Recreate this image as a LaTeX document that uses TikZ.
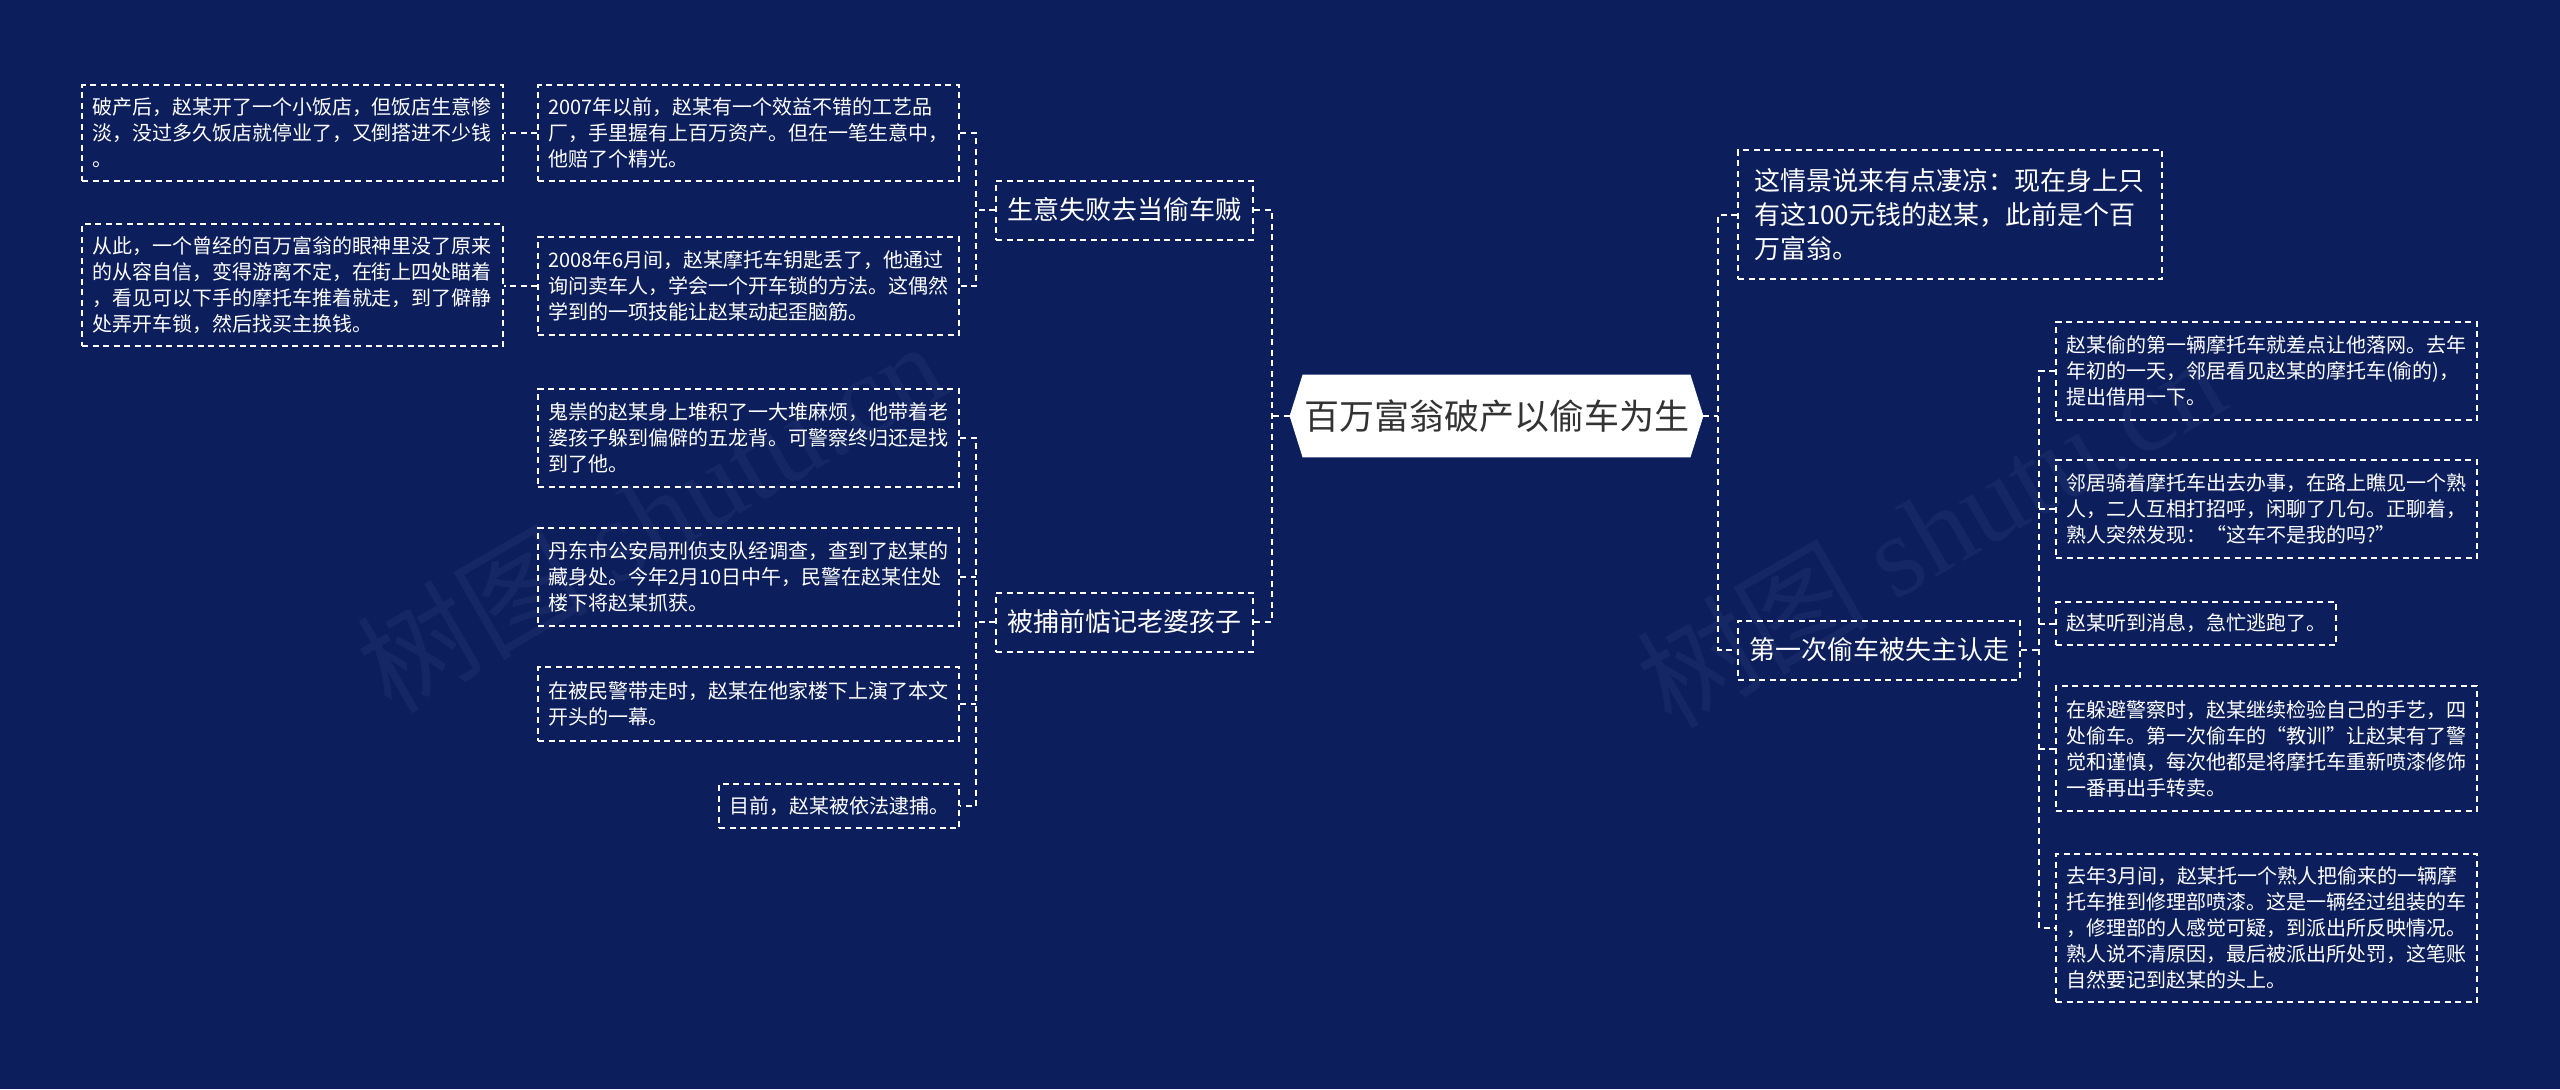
\documentclass[tikz,border=0pt]{standalone}
\usepackage{fontspec}
\setmainfont{Noto Sans CJK SC}
\newfontfamily\wmlatin{Liberation Serif}
\usetikzlibrary{calc}
\definecolor{bgcol}{RGB}{12,31,92}
\definecolor{wmcol}{RGB}{21,39,100}
\definecolor{roottxt}{RGB}{51,51,51}
\pgfdeclarelayer{bglayer}
\pgfsetlayers{bglayer,main}
\tikzset{
  dashline/.style={draw=white, line width=1pt, dash pattern=on 3pt off 2.25pt},
  leaf/.style={dashline, text=white, font=\fontsize{10pt}{13pt}\selectfont, align=left, inner xsep=5pt, inner ysep=0pt},
  wide/.style={text width=200.5pt},
  topic/.style={dashline, text=white, font=\fontsize{13pt}{17pt}\selectfont, align=left, inner xsep=5.75pt, inner ysep=0pt, minimum height=29.5pt},
  conn/.style={dashline},
  rootbox/.style={text=roottxt, font=\fontsize{17.5pt}{21pt}\selectfont, minimum width=206.5pt, minimum height=41pt, inner sep=0pt},
  wm/.style={text=wmcol, rotate=30, font=\fontsize{58pt}{58pt}\selectfont}
}
\begin{document}
\begin{tikzpicture}[x=0.5pt, y=-0.5pt]
\useasboundingbox (0,0) rectangle (2560,1089);

% root
\node[rootbox] (root) at (1496.5,416) {百万富翁破产以偷车为生};

% level 1 left
\node[topic, anchor=east] (S1) at (1254,210) {生意失败去当偷车贼};
\node[topic, anchor=east] (S2) at (1254,622) {被捕前惦记老婆孩子};

% leaves of S1
\node[leaf, wide, anchor=east, minimum height=48pt] (L2) at (960,133) {2007年以前，赵某有一个效益不错的工艺品\\厂，手里握有上百万资产。但在一笔生意中，\\他赔了个精光。};
\node[leaf, wide, anchor=east, minimum height=48pt] (L1) at (504,133) {破产后，赵某开了一个小饭店，但饭店生意惨\\淡，没过多久饭店就停业了，又倒搭进不少钱\\。};
\node[leaf, wide, anchor=east, minimum height=49pt] (L4) at (960,286) {2008年6月间，赵某摩托车钥匙丢了，他通过\\询问卖车人，学会一个开车锁的方法。这偶然\\学到的一项技能让赵某动起歪脑筋。};
\node[leaf, wide, anchor=east, minimum height=61pt] (L3) at (504,285) {从此，一个曾经的百万富翁的眼神里没了原来\\的从容自信，变得游离不定，在街上四处瞄着\\，看见可以下手的摩托车推着就走，到了僻静\\处弄开车锁，然后找买主换钱。};

% leaves of S2
\node[leaf, wide, anchor=east, minimum height=49pt] (L5) at (960,438) {鬼祟的赵某身上堆积了一大堆麻烦，他带着老\\婆孩子躲到偏僻的五龙背。可警察终归还是找\\到了他。};
\node[leaf, wide, anchor=east, minimum height=49pt] (L6) at (960,577) {丹东市公安局刑侦支队经调查，查到了赵某的\\藏身处。今年2月10日中午，民警在赵某住处\\楼下将赵某抓获。};
\node[leaf, wide, anchor=east, minimum height=37pt] (L7) at (960,704) {在被民警带走时，赵某在他家楼下上演了本文\\开头的一幕。};
\node[leaf, anchor=east, minimum height=22pt] (L8) at (960,806) {目前，赵某被依法逮捕。};

% level 1 right
\node[topic, anchor=west, text width=196pt, inner xsep=8pt, minimum height=64.5pt] (R1) at (1737,214.5) {这情景说来有点凄凉：现在身上只\\有这100元钱的赵某，此前是个百\\万富翁。};
\node[topic, anchor=west, inner xsep=5.5pt] (R2) at (1737,650) {第一次偷车被失主认走};

% leaves of R2
\node[leaf, wide, anchor=west, minimum height=49pt] (RL1) at (2055,371) {赵某偷的第一辆摩托车就差点让他落网。去年\\年初的一天，邻居看见赵某的摩托车(偷的)，\\提出借用一下。};
\node[leaf, wide, anchor=west, minimum height=49pt] (RL2) at (2055,509) {邻居骑着摩托车出去办事，在路上瞧见一个熟\\人，二人互相打招呼，闲聊了几句。正聊着，\\熟人突然发现：“这车不是我的吗?”};
\node[leaf, anchor=west, minimum height=21.5pt] (RL3) at (2055,623.5) {赵某听到消息，急忙逃跑了。};
\node[leaf, wide, anchor=west, minimum height=62.5pt] (RL4) at (2055,748.5) {在躲避警察时，赵某继续检验自己的手艺，四\\处偷车。第一次偷车的“教训”让赵某有了警\\觉和谨慎，每次他都是将摩托车重新喷漆修饰\\一番再出手转卖。};
\node[leaf, wide, anchor=west, minimum height=74pt] (RL5) at (2055,928) {去年3月间，赵某托一个熟人把偷来的一辆摩\\托车推到修理部喷漆。这是一辆经过组装的车\\，修理部的人感觉可疑，到派出所反映情况。\\熟人说不清原因，最后被派出所处罚，这笔账\\自然要记到赵某的头上。};

% background, watermark, root hexagon
\begin{pgfonlayer}{bglayer}
  \fill[bgcol] (0,0) rectangle (2560,1089);
  \node[wm] (wm1) at (650,515) {树图 {\wmlatin shutu.cn}};
  \node[wm] (wm2) at (1930,530) {树图 {\wmlatin shutu.cn}};
  \fill[white] (root.west) -- ([xshift=6.5pt]root.north west) -- ([xshift=-6.5pt]root.north east)
    -- (root.east) -- ([xshift=-6.5pt]root.south east) -- ([xshift=6.5pt]root.south west) -- cycle;
\end{pgfonlayer}

% connectors left
\coordinate (bL) at ($(root.west)+(-18,0)$);
\draw[conn] (root.west) -- (bL);
\draw[conn] (S1.east) -| (bL) |- (S2.east);

\coordinate (b1) at ($(S1.west)+(-19,0)$);
\draw[conn] (S1.west) -- (b1);
\draw[conn] (L2.east) -| (b1) |- (L4.east);
\draw[conn] (L2.west) -- (L2.west -| L1.east);
\draw[conn] (L4.west) -- (L4.west -| L3.east);

\coordinate (b2) at ($(S2.west)+(-19,0)$);
\draw[conn] (S2.west) -- (b2);
\draw[conn] (L5.east) -| (b2) |- (L8.east);
\draw[conn] (L6.east) -- (L6.east -| b2);
\draw[conn] (L7.east) -- (L7.east -| b2);

% connectors right
\coordinate (bR) at ($(root.east)+(15,0)$);
\draw[conn] (root.east) -- (bR);
\draw[conn] (R1.west) -| (bR) |- (R2.west);

\coordinate (bR2) at ($(R2.east)+(18,0)$);
\draw[conn] (R2.east) -- (bR2);
\draw[conn] (RL1.west) -| (bR2) |- (RL5.west);
\draw[conn] (RL2.west) -- (RL2.west -| bR2);
\draw[conn] (RL3.west) -- (RL3.west -| bR2);
\draw[conn] (RL4.west) -- (RL4.west -| bR2);
\end{tikzpicture}
\end{document}
